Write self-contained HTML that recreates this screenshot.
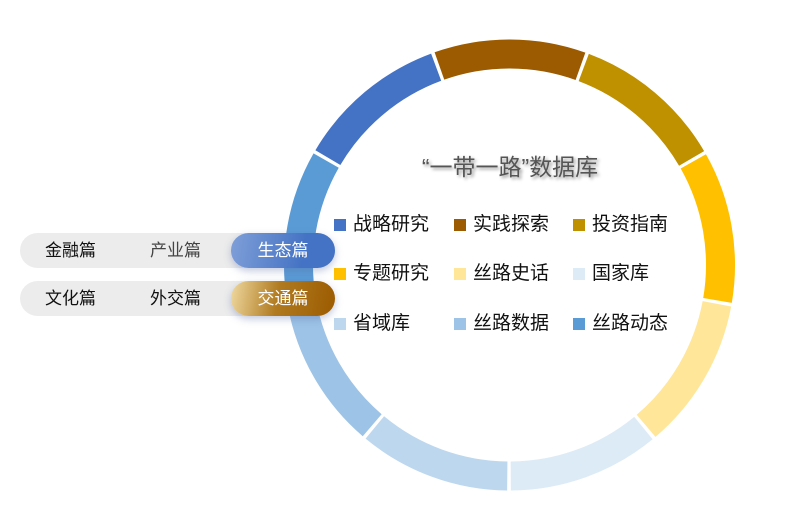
<!DOCTYPE html>
<html><head><meta charset="utf-8"><style>
html,body{margin:0;width:785px;height:526px;overflow:hidden}
body{background:#fff;position:relative;font-family:"Liberation Sans","Noto Sans CJK SC",sans-serif}
svg{position:absolute;left:0;top:0}
.title{position:absolute;left:360px;width:300px;top:148px;text-align:center;font-size:23px;color:#555;text-shadow:2px 2px 3px rgba(0,0,0,.4)}
.lg{position:absolute;font-size:19px;color:#111;line-height:24px}
.lg i{display:inline-block;width:12px;height:12px;margin-right:7px;vertical-align:-1px}
.pill{position:absolute;left:20px;width:315px;height:35px;border-radius:18px;background:#ececec}
.pill span{position:absolute;top:0;line-height:35px;font-size:17px;color:#111}
.pill .a{left:211px;width:104px;height:35px;border-radius:18px;text-align:center;color:#fff;box-shadow:0 3px 8px rgba(80,100,160,.35)}
</style></head><body>
<svg width="785" height="526">
<g fill="none" stroke-width="29">
<circle cx="509.5" cy="265" r="211" stroke="#9C5B00" stroke-dasharray="143.8 1200" transform="rotate(-109.4 509.5 265)"/>
<circle cx="509.5" cy="265" r="211" stroke="#BF9000" stroke-dasharray="143.8 1200" transform="rotate(-69.4 509.5 265)"/>
<circle cx="509.5" cy="265" r="211" stroke="#FFC000" stroke-dasharray="143.8 1200" transform="rotate(-29.4 509.5 265)"/>
<circle cx="509.5" cy="265" r="211" stroke="#FFE699" stroke-dasharray="143.8 1200" transform="rotate(10.6 509.5 265)"/>
<circle cx="509.5" cy="265" r="211" stroke="#DDEBF7" stroke-dasharray="143.8 1200" transform="rotate(50.6 509.5 265)"/>
<circle cx="509.5" cy="265" r="211" stroke="#BDD7EE" stroke-dasharray="143.8 1200" transform="rotate(90.6 509.5 265)"/>
<circle cx="509.5" cy="265" r="211" stroke="#9DC3E6" stroke-dasharray="143.8 1200" transform="rotate(130.6 509.5 265)"/>
<circle cx="509.5" cy="265" r="211" stroke="#5B9BD5" stroke-dasharray="143.8 1200" transform="rotate(170.6 509.5 265)"/>
<circle cx="509.5" cy="265" r="211" stroke="#4472C4" stroke-dasharray="143.8 1200" transform="rotate(210.6 509.5 265)"/>
</g></svg>
<div class="title">“一带一路”数据库</div>
<div class="lg" style="left:334px;top:213px"><i style="background:#4472C4"></i>战略研究</div>
<div class="lg" style="left:454px;top:213px"><i style="background:#9C5B00"></i>实践探索</div>
<div class="lg" style="left:573px;top:213px"><i style="background:#BF9000"></i>投资指南</div>
<div class="lg" style="left:334px;top:262px"><i style="background:#FFC000"></i>专题研究</div>
<div class="lg" style="left:454px;top:262px"><i style="background:#FFE699"></i>丝路史话</div>
<div class="lg" style="left:573px;top:262px"><i style="background:#DDEBF7"></i>国家库</div>
<div class="lg" style="left:334px;top:312px"><i style="background:#BDD7EE"></i>省域库</div>
<div class="lg" style="left:454px;top:312px"><i style="background:#9DC3E6"></i>丝路数据</div>
<div class="lg" style="left:573px;top:312px"><i style="background:#5B9BD5"></i>丝路动态</div>
<div class="pill" style="top:233px"><span style="left:25px">金融篇</span><span style="left:130px;color:#444">产业篇</span><span class="a" style="background:linear-gradient(100deg,#7f9fd8,#4472C4 70%)">生态篇</span></div>
<div class="pill" style="top:281px"><span style="left:25px">文化篇</span><span style="left:130px">外交篇</span><span class="a" style="background:linear-gradient(100deg,#efd9a0,#b07a20 45%,#9C5B00)">交通篇</span></div>
</body></html>
